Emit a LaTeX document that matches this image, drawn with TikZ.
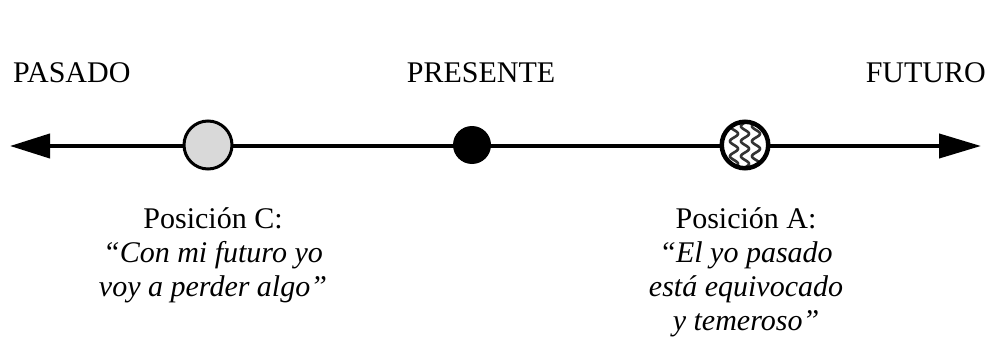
\documentclass[tikz,border=0pt]{standalone}
\usepackage{fontspec}
\setmainfont{Liberation Serif}
\usetikzlibrary{arrows.meta}
\begin{document}
\begin{tikzpicture}[x=1pt,y=-1pt,
  lbl/.style={font=\fontsize{30}{34}\selectfont, inner sep=0pt, anchor=base},
  ital/.style={lbl, font=\fontsize{30}{34}\selectfont\itshape},
  ring/.style={circle, draw=black, line width=3pt, inner sep=0pt},
  axis/.style={line width=4pt, {Triangle[length=40pt,width=24pt]}-{Triangle[length=42pt,width=24pt]}},
  wave/.style={line width=2.6pt, black!80}
  ]
\useasboundingbox (0,0) rectangle (991,345);
% axis
\coordinate (L) at (10,146);
\coordinate (R) at (981,146);
\draw[axis] (L) -- (R);
% points
\node[ring, fill=gray!30, minimum size=48pt] (C) at (208,145) {};
\node[circle, fill=black, inner sep=0pt, minimum size=38pt] (P) at (472,145) {};
\node[ring, fill=white, minimum size=48pt] (A) at (745,145) {};
\begin{scope}
  \clip (A.center) circle (22.5pt);
  \foreach \dx in {-11,0,11} {
    \draw[wave] plot[domain=-26:26, samples=60, smooth] ({745+\dx+4*sin(\x*24)}, {145+\x});
  }
\end{scope}
\draw[line width=3pt] (A.center) circle (22.5pt);
% headings
\node[lbl, anchor=base west] (pasado) at (13,82) {PASADO};
\node[lbl] (presente) at (481,82) {PRESENTE};
\node[lbl, anchor=base east] (futuro) at (986,82) {FUTURO};
% label C
\node[lbl] (c1) at (213,228) {Posición C:};
\node[ital] (c2) at (213,262) {“Con mi futuro yo};
\node[ital] (c3) at (213,296) {voy a perder algo”};
% label A
\node[lbl] (a1) at (746,228) {Posición A:};
\node[ital] (a2) at (746,262) {“El yo pasado};
\node[ital] (a3) at (746,296) {está equivocado};
\node[ital] (a4) at (746,330) {y temeroso”};
\end{tikzpicture}
\end{document}
